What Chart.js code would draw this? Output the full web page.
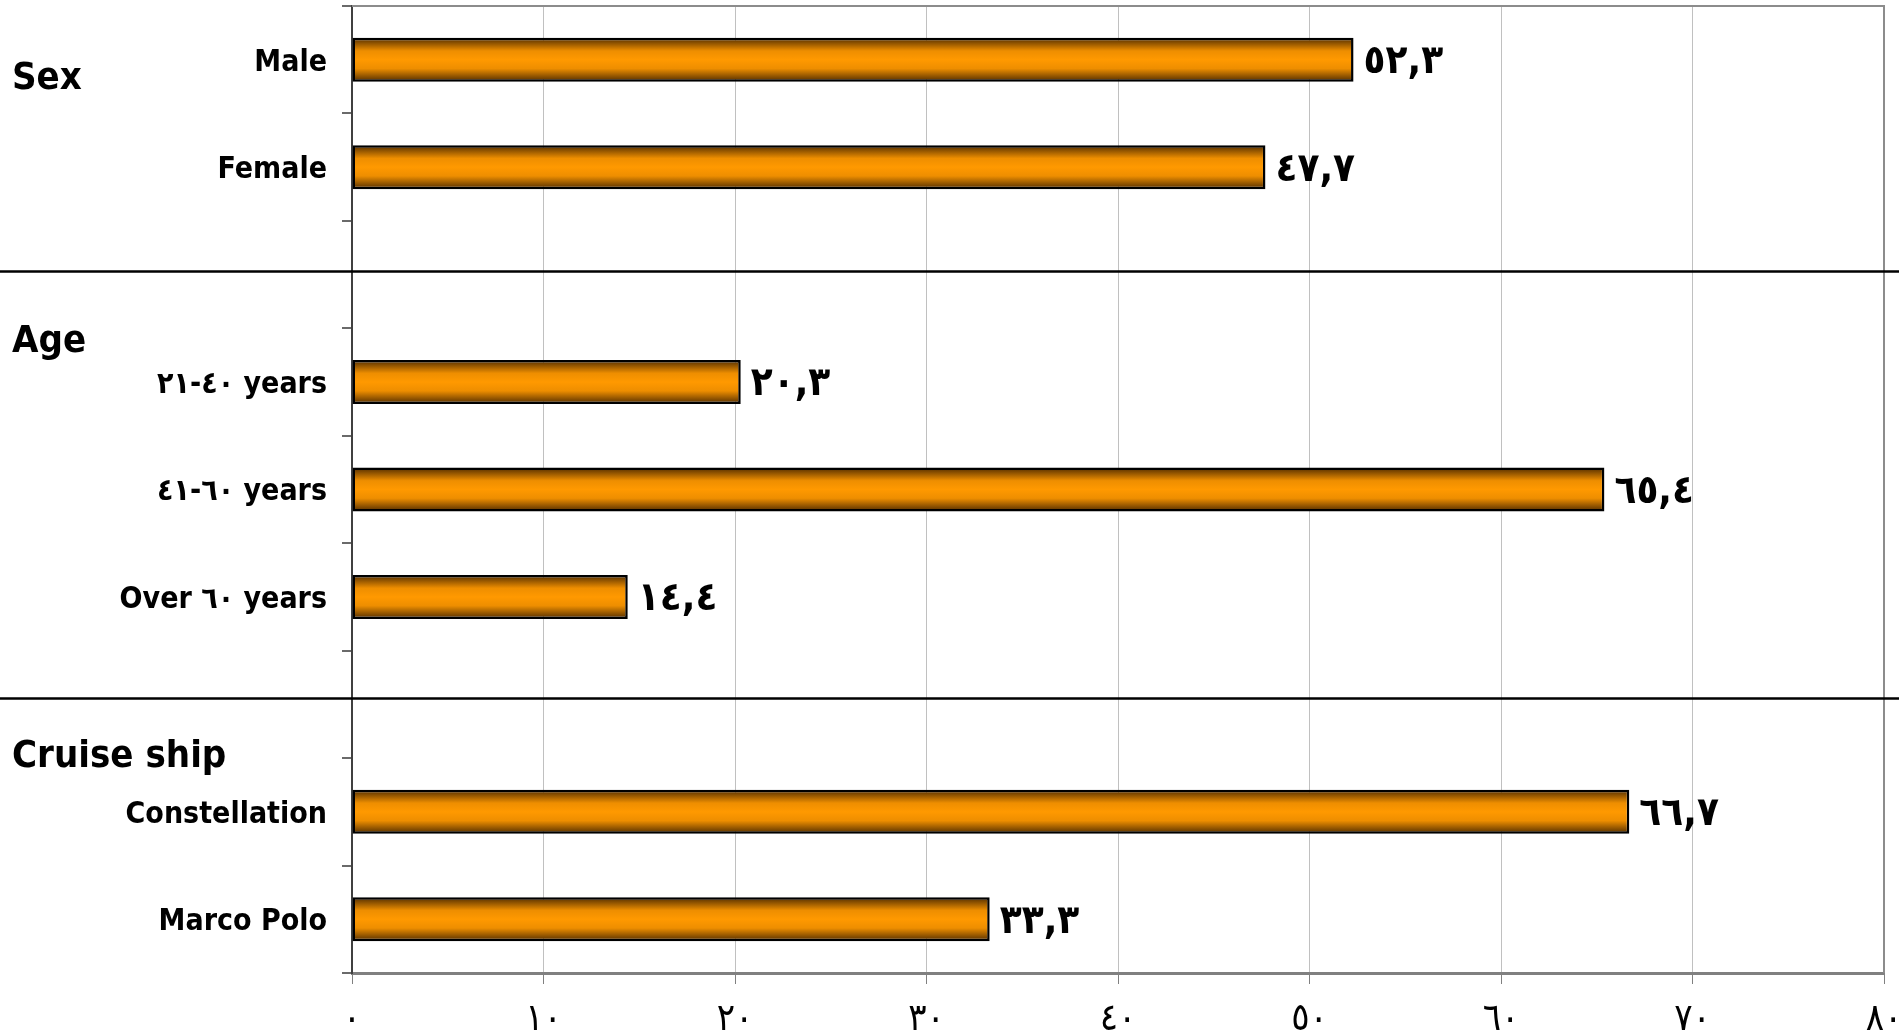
<!DOCTYPE html>
<html>
<head>
<meta charset="utf-8">
<script src="https://cdn.jsdelivr.net/npm/chart.js@4/dist/chart.umd.min.js"></script>
<style>
  html, body { margin: 0; padding: 0; background: #ffffff; }
  #wrap { width: 1899px; height: 1030px; }
</style>
</head>
<body>
<div id="wrap"><canvas id="chart" width="1899" height="1030"></canvas></div>
<script>
// Rows of the chart (blank rows separate the groups)
const categories = [
  'Male', 'Female', '',
  '٢١\u200E-\u200E٤٠ years', '٤١\u200E-\u200E٦٠ years', 'Over ٦٠ years', '',
  'Constellation', 'Marco Polo'
];
// Percentages per row
const values = [52.3, 47.7, null, 20.3, 65.4, 14.4, null, 66.7, 33.3];
// Group headings
const groupTitles = ['Sex', 'Age', 'Cruise ship'];
// Value-axis tick labels (0 .. 80 step 10)
const xTickLabels = ['٠', '١٠', '٢٠', '٣٠', '٤٠', '٥٠', '٦٠', '٧٠', '٨٠'];

const FONT = '"DejaVu Sans Condensed", "DejaVu Sans", sans-serif';
const ARABIC_DIGITS = ['٠','١','٢','٣','٤','٥','٦','٧','٨','٩'];
function toArabicDigits(s) {
  return s.replace(/[0-9]/g, d => ARABIC_DIGITS[+d]);
}
function formatValue(v) {
  return toArabicDigits(v.toFixed(1).replace('.', ','));
}

const BAR_FRACTION = 0.41;

// Vertical shaded fill for each bar: dark edges, bright orange centre
function barGradient(ctx) {
  const chart = ctx.chart;
  const area = chart.chartArea;
  if (!area || ctx.type !== 'data') return '#ff9900';
  const y = chart.scales.y;
  const center = y.getPixelForValue(ctx.dataIndex);
  const band = (area.bottom - area.top) / categories.length;
  const half = band * BAR_FRACTION / 2;
  const g = chart.ctx.createLinearGradient(0, center - half, 0, center + half);
  g.addColorStop(0.00, '#4f2b00');
  g.addColorStop(0.30, '#ee8e00');
  g.addColorStop(0.50, '#ff9900');
  g.addColorStop(0.70, '#ee8e00');
  g.addColorStop(1.00, '#4f2b00');
  return g;
}

// Frame, group separators, headings and value labels
const decorations = {
  id: 'decorations',
  beforeDatasetsDraw(chart) {
    const { ctx, chartArea: a } = chart;
    ctx.save();
    ctx.strokeStyle = '#8c8c8c';
    ctx.lineWidth = 2;
    ctx.beginPath();
    ctx.moveTo(a.left, a.top);
    ctx.lineTo(a.right, a.top);
    ctx.lineTo(a.right, a.bottom);
    ctx.stroke();
    ctx.restore();
  },
  afterDatasetsDraw(chart, args, opts) {
    const { ctx, scales: { x, y } } = chart;
    ctx.save();
    // separators between groups, across the full width
    ctx.strokeStyle = '#000000';
    ctx.lineWidth = 2.5;
    opts.separatorAt.forEach(idx => {
      const py = Math.round(y.getPixelForValue(idx)) + 0.5;
      ctx.beginPath();
      ctx.moveTo(0, py);
      ctx.lineTo(chart.width, py);
      ctx.stroke();
    });
    // group headings
    ctx.fillStyle = '#000000';
    ctx.font = 'bold 38px ' + FONT;
    ctx.textAlign = 'left';
    ctx.textBaseline = 'alphabetic';
    groupTitles.forEach((t, i) => {
      ctx.fillText(t, 12, y.getPixelForValue(opts.titleAt[i]));
    });
    // value labels to the right of each bar
    ctx.font = 'bold 40px ' + FONT;
    ctx.textBaseline = 'middle';
    const meta = chart.getDatasetMeta(0);
    values.forEach((v, i) => {
      if (v === null) return;
      const bar = meta.data[i];
      ctx.fillText(formatValue(v), x.getPixelForValue(v) + 10, bar.y + 3);
    });
    ctx.restore();
  }
};

new Chart(document.getElementById('chart'), {
  type: 'bar',
  data: {
    labels: categories,
    datasets: [{
      data: values,
      backgroundColor: barGradient,
      borderColor: '#000000',
      borderWidth: 2.5,
      borderSkipped: false,
      categoryPercentage: 1,
      barPercentage: BAR_FRACTION
    }]
  },
  options: {
    indexAxis: 'y',
    responsive: false,
    animation: false,
    events: [],
    layout: { padding: { top: 6, right: 15, left: 0, bottom: 0 } },
    plugins: {
      legend: { display: false },
      tooltip: { enabled: false },
      decorations: {
        separatorAt: [1.97, 5.94],
        titleAt: [0.272, 2.719, 6.579]
      }
    },
    scales: {
      x: {
        type: 'linear',
        min: 0,
        max: 80,
        ticks: {
          stepSize: 10,
          padding: 13,
          color: '#000000',
          font: { family: FONT, size: 38 },
          callback: (v, i) => xTickLabels[i]
        },
        grid: {
          color: '#c0c0c0',
          lineWidth: 1,
          tickColor: '#808080',
          tickLength: 11
        },
        border: { color: '#808080', width: 3 },
        afterFit: s => {
          s.height = 57;
          s.paddingLeft = 0;
          s.paddingRight = 0;
        }
      },
      y: {
        ticks: {
          padding: 15,
          labelOffset: 3,
          color: '#000000',
          font: { family: FONT, size: 30, weight: 'bold' }
        },
        grid: {
          drawOnChartArea: false,
          offset: true,
          tickColor: '#6a6a6a',
          tickLength: 10,
          lineWidth: 2
        },
        border: { color: '#404040', width: 2 },
        afterFit: s => {
          s.width = 352;
          s.paddingTop = 0;
          s.paddingBottom = 0;
        }
      }
    }
  },
  plugins: [decorations]
});
</script>
</body>
</html>
